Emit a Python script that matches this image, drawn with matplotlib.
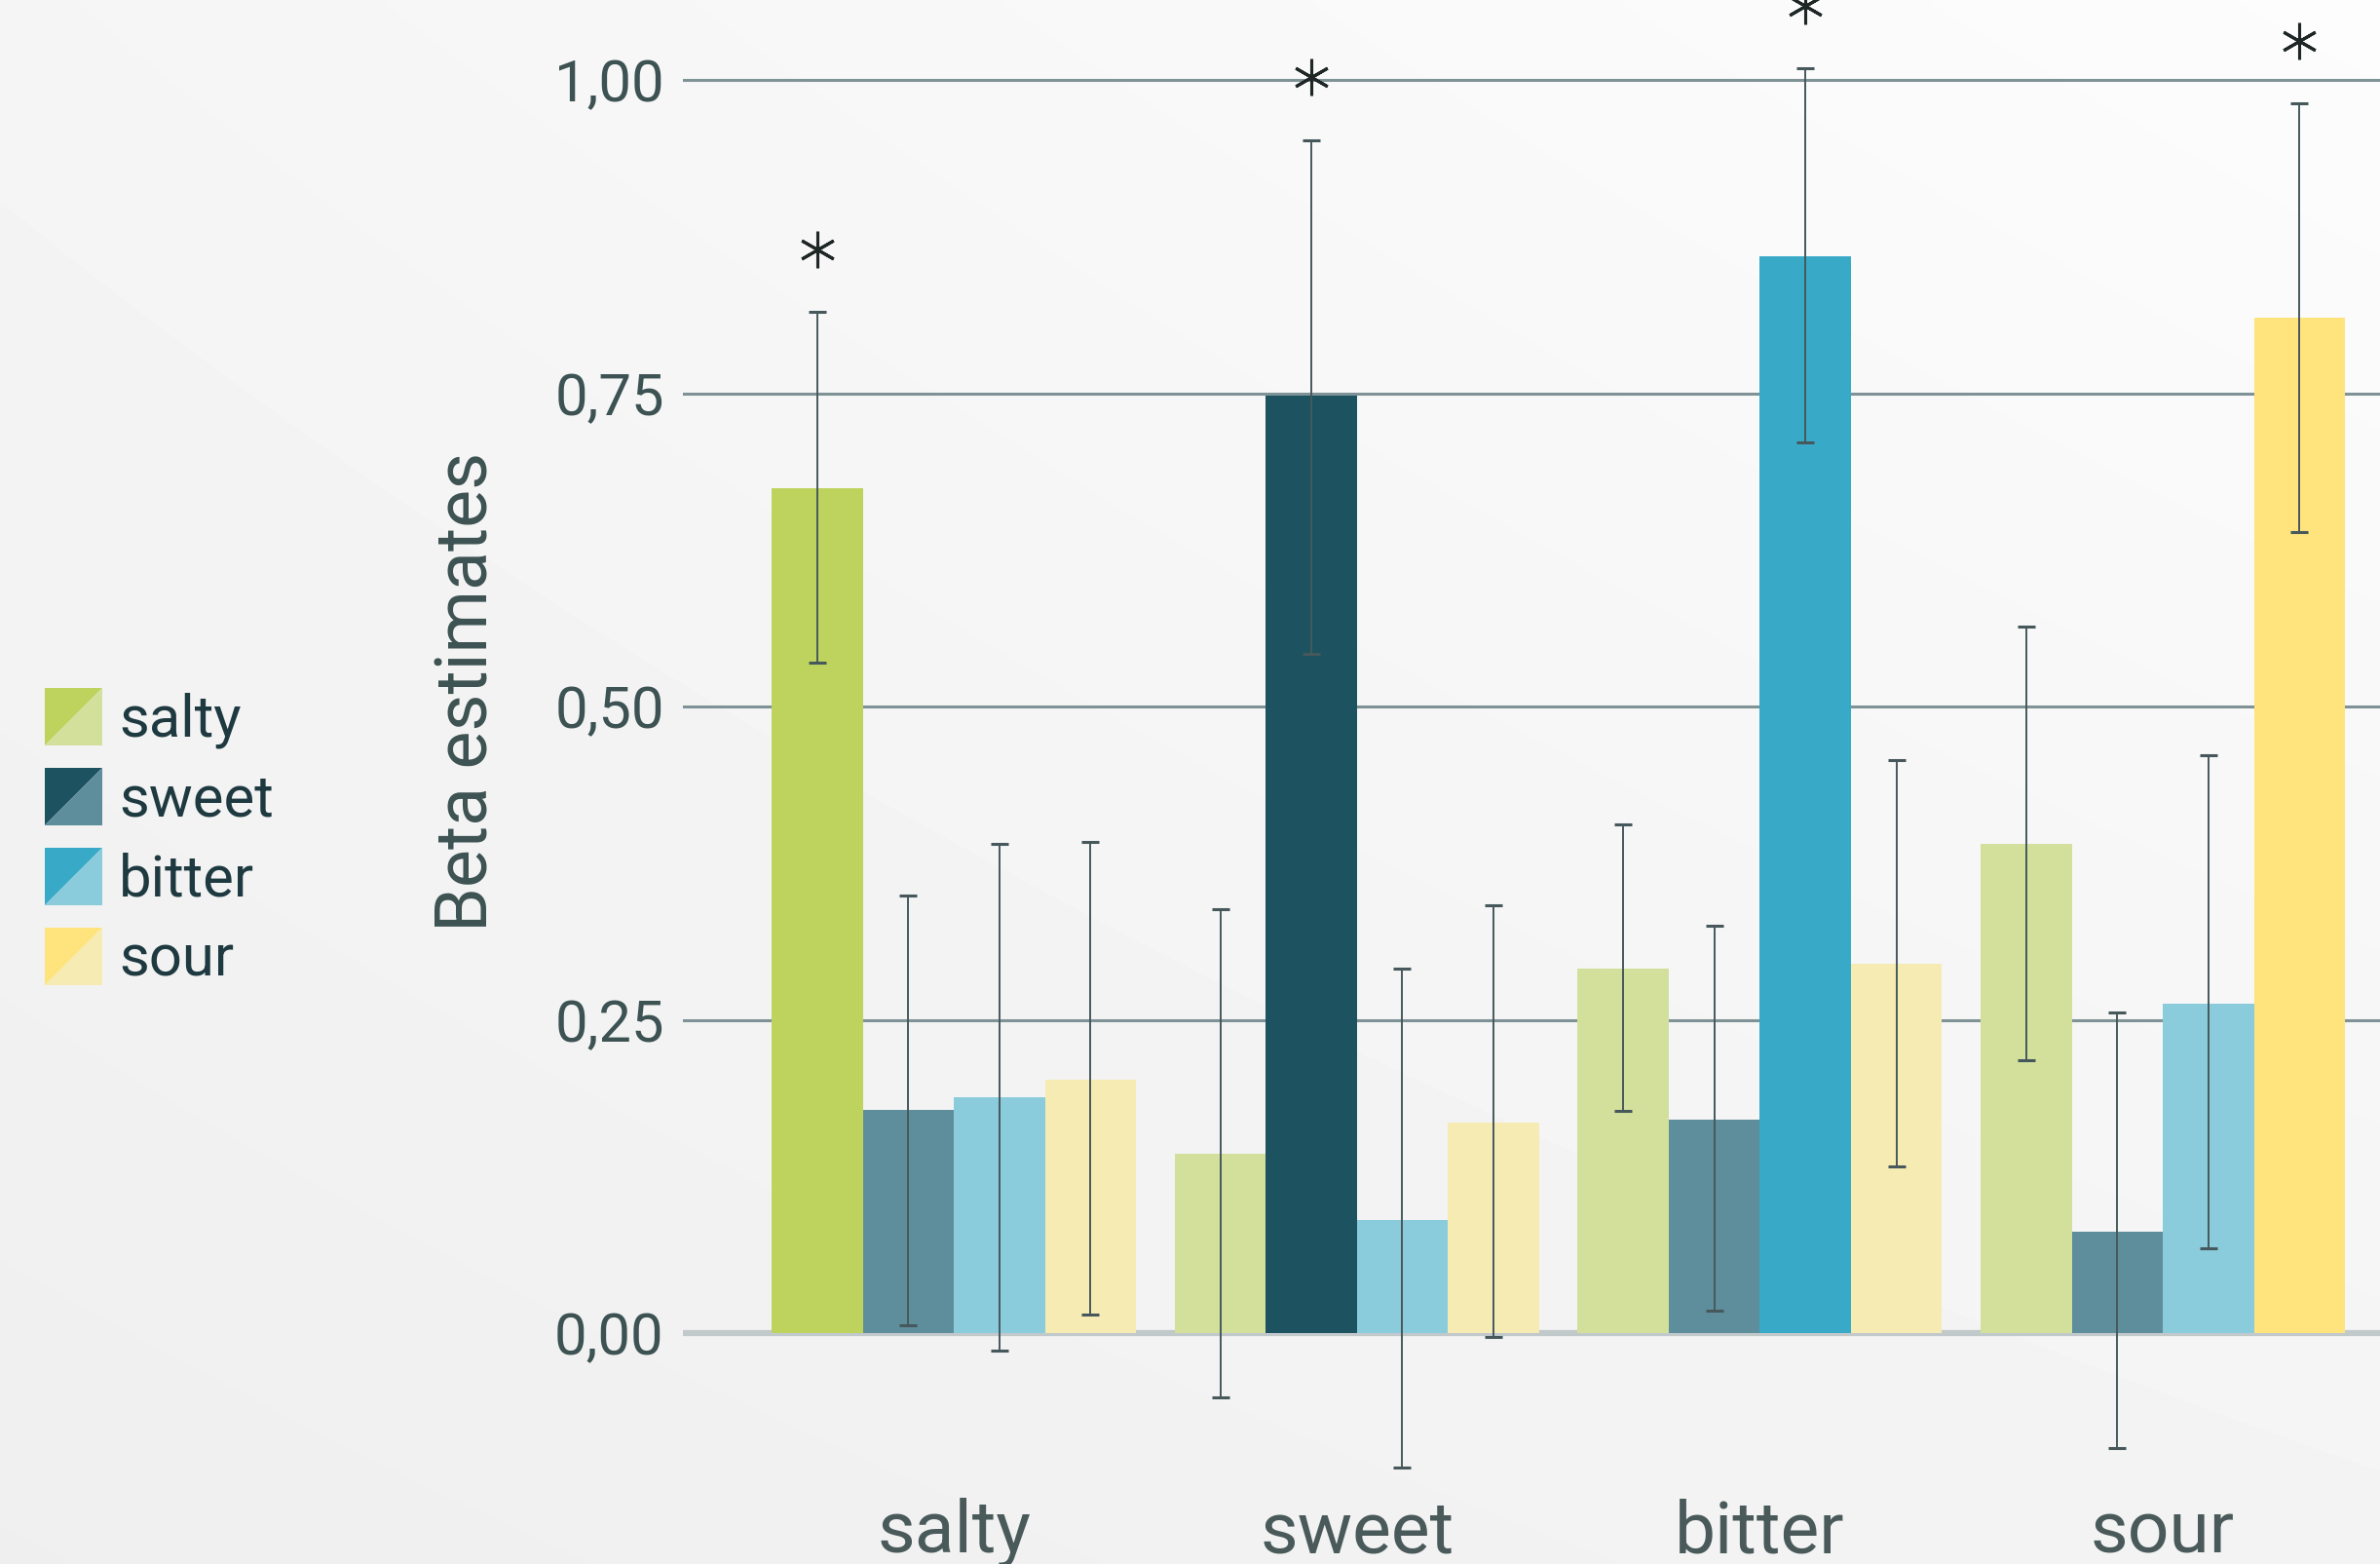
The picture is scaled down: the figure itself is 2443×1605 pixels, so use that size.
import matplotlib
matplotlib.use("Agg")
import matplotlib.pyplot as plt
import numpy as np
from matplotlib.patches import Polygon
from matplotlib import transforms

plt.rcParams['font.family'] = ['Roboto', 'DejaVu Sans']

# ---------------- data ----------------
categories = ["salty", "sweet", "bitter", "sour"]
series_names = ["salty", "sweet", "bitter", "sour"]

salty_vals = [0.674, 0.143, 0.291, 0.390]
sweet_vals = [0.178, 0.748, 0.170, 0.081]
bitter_vals = [0.188, 0.090, 0.859, 0.263]
sour_vals = [0.202, 0.168, 0.295, 0.810]

salty_lo = [0.535, -0.051, 0.177, 0.218]
salty_hi = [0.815, 0.338, 0.406, 0.564]
sweet_lo = [0.006, 0.542, 0.018, -0.092]
sweet_hi = [0.349, 0.952, 0.325, 0.256]
bitter_lo = [-0.014, -0.107, 0.711, 0.068]
bitter_hi = [0.390, 0.291, 1.009, 0.461]
sour_lo = [0.015, -0.003, 0.133, 0.639]
sour_hi = [0.392, 0.341, 0.457, 0.981]

salty_sig = [True, False, False, False]
sweet_sig = [False, True, False, False]
bitter_sig = [False, False, True, False]
sour_sig = [False, False, False, True]

ytick_vals = [0.0, 0.25, 0.50, 0.75, 1.00]
ytick_labels = ["0,00", "0,25", "0,50", "0,75", "1,00"]
ylabel = "Beta estimates"

# ---------------- styles ----------------
bright = ["#BDD35E", "#1D5361", "#38AAC8", "#FFE37D"]
light = ["#D2E09C", "#5E8E9C", "#8ACBDC", "#F7EBB4"]

values = [salty_vals, sweet_vals, bitter_vals, sour_vals]
lows = [salty_lo, sweet_lo, bitter_lo, sour_lo]
highs = [salty_hi, sweet_hi, bitter_hi, sour_hi]
sigs = [salty_sig, sweet_sig, bitter_sig, sour_sig]

W, H = 2443, 1605
fig = plt.figure(figsize=(W / 100, H / 100), dpi=100)

# background gradient + legend layer
bg = fig.add_axes([0, 0, 1, 1], zorder=0)
yy, xx = np.mgrid[0:1:200j, 0:1:300j]
grad = 0.972 - 0.035 * yy + 0.018 * xx - 0.012 * (1 - xx) * (1 - yy)
grad = np.clip(grad, 0, 1)
bg.imshow(grad, cmap="gray", vmin=0, vmax=1, extent=(0, W, H, 0),
          aspect="auto", interpolation="bilinear")
bg.set_xlim(0, W)
bg.set_ylim(H, 0)
bg.axis("off")

# legend (split squares)
s = 59
for i, name in enumerate(series_names):
    x0 = 46
    y0 = 706 + i * 82
    bg.add_patch(Polygon([(x0, y0), (x0 + s, y0), (x0, y0 + s)], closed=True,
                         facecolor=bright[i], edgecolor="none"))
    bg.add_patch(Polygon([(x0 + s, y0), (x0 + s, y0 + s), (x0, y0 + s)], closed=True,
                         facecolor=light[i], edgecolor="none"))
    bg.text(122, y0 + 49, name, fontsize=43, color="#1e3a40", va="baseline", ha="left")

# main axes
zero_px, one_px = 1368, 82
ppu = zero_px - one_px
ymin = -(H - zero_px) / ppu
ymax = zero_px / ppu
left = 450 / 1568
ax = fig.add_axes([left, 0, 1 - left, 1], zorder=1)
ax.patch.set_alpha(0)
ax.set_ylim(ymin, ymax)
ax.set_xlim(-0.672, 3.539)

w = 0.226
xbase = np.arange(len(categories))
for j in range(len(series_names)):
    x = xbase + (j - 1.5) * w
    vals = np.array(values[j])
    lo = np.array(lows[j])
    hi = np.array(highs[j])
    cols = [bright[j] if i == j else light[j] for i in range(len(categories))]
    ax.bar(x, vals, width=w, color=cols, linewidth=0, zorder=2)
    ax.errorbar(x, vals, yerr=[vals - lo, hi - vals], fmt="none",
                ecolor="#46585b", elinewidth=1.4, capsize=6.5, capthick=2.2, zorder=3)
    sig = np.array(sigs[j])
    ax.plot(x[sig], hi[sig] + 0.05, ls="none", marker=(6, 2, 0), ms=27,
            mew=2.2, color="#1f2626", zorder=4, clip_on=False)

for v in ytick_vals[1:]:
    ax.axhline(v, color="#7f9296", lw=2.2, zorder=1)
ax.axhline(0, color="#c2c9cb", lw=4.5, zorder=1.5)

ax.set_yticks(ytick_vals)
ax.set_yticklabels(ytick_labels)
ax.tick_params(axis="y", length=0, pad=14, labelsize=43, labelcolor="#3d5252")
ax.set_xticks([])
for sp in ax.spines.values():
    sp.set_visible(False)

# category labels under groups
lab_y = -(1593 - zero_px) / ppu
for i, c in enumerate(categories):
    ax.text(xbase[i], lab_y, c, fontsize=54, color="#4a5a5a", ha="center",
            va="baseline", clip_on=False)

trans = transforms.blended_transform_factory(ax.transAxes, ax.transData)
ax.text(-0.127, 0.512, ylabel, rotation=90, fontsize=53, color="#3d5252",
        ha="center", va="center", transform=trans)

fig.savefig("out.png", dpi=100)
